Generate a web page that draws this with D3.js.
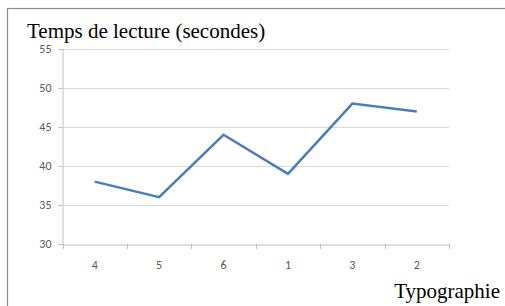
<!DOCTYPE html>
<html>
<head>
<meta charset="utf-8">
<script src="https://cdn.jsdelivr.net/npm/d3@7"></script>
<style>
  body { margin: 0; background: #fff; }
  svg { display: block; }
</style>
</head>
<body>
<svg id="mychart"></svg>
<script>
const width = 505
const height = 306
const margin = ({top: 49, right: 56, bottom: 62, left: 62.5})

const categories = ["4", "5", "6", "1", "3", "2"]
const values = [38, 36, 44, 39, 48, 47]
const yTicks = [30, 35, 40, 45, 50, 55]

const data = categories.map((c, i) => ({name: c, value: values[i]}))

const x = d3.scaleBand()
    .domain(categories)
    .range([margin.left, width - margin.right])

const y = d3.scaleLinear()
    .domain([30, 55])
    .range([height - margin.bottom, margin.top])

const svg = d3.select('#mychart').attr('width', width).attr('height', height)

const tickFont = "Carlito, 'Open Sans', 'Liberation Sans', Arial, sans-serif"
const titleFont = "'Liberation Serif', 'Times New Roman', serif"

// outer frame
svg.append("rect")
    .attr("x", 7.5).attr("y", 8.5)
    .attr("width", width + 10).attr("height", height + 10)
    .attr("fill", "none")
    .attr("stroke", "#8c8c8c")
    .attr("stroke-width", 1.2)

// grid lines
svg.append("g")
    .attr("stroke", "#d9d9d9")
    .selectAll("line")
    .data(yTicks.filter(d => d > 30))
    .join("line")
    .attr("x1", margin.left).attr("x2", width - margin.right)
    .attr("y1", d => Math.round(y(d)) + 0.5).attr("y2", d => Math.round(y(d)) + 0.5)

// y axis
svg.append("g")
    .attr("transform", `translate(${margin.left},0)`)
    .call(d3.axisLeft(y).tickValues(yTicks).tickSize(4).tickPadding(7))
    .call(g => g.select(".domain").attr("stroke", "#bfbfbf"))
    .call(g => g.selectAll(".tick line").attr("stroke", "#bfbfbf"))
    .call(g => g.selectAll("text").attr("fill", "#595959")
        .style("font-family", tickFont).style("font-size", "12px"))

// x axis
const xAxis = d3.axisBottom(x).tickSize(0).tickPadding(16)
svg.append("g")
    .attr("transform", `translate(0,${Math.round(y(30)) + 0.5})`)
    .call(xAxis)
    .call(g => g.select(".domain").attr("stroke", "#bfbfbf"))
    .call(g => g.selectAll("text").attr("fill", "#595959")
        .style("font-family", tickFont).style("font-size", "12px"))

// boundary tick marks on x axis
const edges = categories.map(c => x(c)).concat([x.range()[1]])
svg.append("g")
    .attr("stroke", "#bfbfbf")
    .selectAll("line")
    .data(edges)
    .join("line")
    .attr("x1", d => Math.round(d) + 0.5).attr("x2", d => Math.round(d) + 0.5)
    .attr("y1", y(30)).attr("y2", y(30) + 5)

// line
svg.append("path")
    .datum(data)
    .attr("fill", "none")
    .attr("stroke", "#4a7ebb")
    .attr("stroke-width", 2.5)
    .attr("stroke-linejoin", "miter")
    .attr("d", d3.line()
        .x(d => x(d.name) + x.bandwidth() / 2)
        .y(d => y(d.value)))

// title
svg.append("text")
    .attr("x", 27).attr("y", 38)
    .style("font-family", titleFont)
    .style("font-size", "21px")
    .attr("fill", "#000")
    .text("Temps de lecture (secondes)")

// x axis title
svg.append("text")
    .attr("x", 500).attr("y", 298)
    .attr("text-anchor", "end")
    .style("font-family", titleFont)
    .style("font-size", "21px")
    .attr("fill", "#000")
    .text("Typographie")
</script>
</body>
</html>
